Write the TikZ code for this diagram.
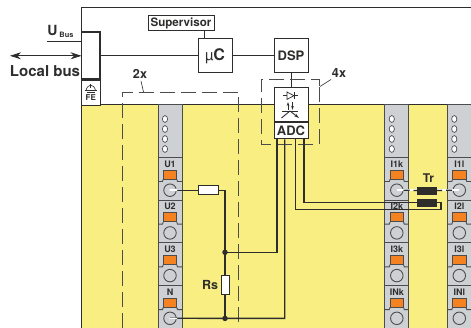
\documentclass[tikz,border=0pt]{standalone}
\usepackage{fontspec}
\setmainfont{TeX Gyre Heros}
\usepackage{tikz}
\usetikzlibrary{positioning}
\usetikzlibrary{arrows.meta}
\definecolor{ink}{HTML}{2E2D2C}
\definecolor{modyellow}{HTML}{F8EE82}
\definecolor{modgray}{HTML}{CED1D4}
\definecolor{modorange}{HTML}{F58220}
\newcommand{\fs}[1]{\bfseries\fontsize{#1}{#1}\selectfont}

\begin{document}
\begin{tikzpicture}[
  x=1pt,y=-1pt,
  node distance=14pt and 41pt,
  color=ink,
  mybox/.style={draw=ink,fill=white,line width=1pt,inner sep=0pt,minimum width=34pt,minimum height=34pt,text=ink},
  mylab/.style={inner sep=0pt,text=ink},
  myres/.style={draw=ink,fill=white,line width=1pt,inner sep=0pt},
  mycoil/.style={draw=ink,fill=ink,inner sep=0pt,minimum width=19pt,minimum height=7.5pt},
  myterm/.style={draw=ink!85,circle,line width=0.9pt,inner sep=0pt,minimum size=12.5pt},
  mydot/.style={circle,fill=ink,inner sep=0pt,minimum size=5.5pt},
  mywire/.style={draw=ink,line width=1.3pt},
  mydash/.style={draw=ink!85,line width=0.8pt,dash pattern=on 15pt off 6pt}
]
\useasboundingbox (0,0) rectangle (471,328);

\fill[white] (0,0) rectangle (471,328);
\fill[modyellow] (81.5,104) rectangle (471,328);
\draw[line width=0.9pt] (471,7.5) -- (81.5,7.5) -- (81.5,328);
\draw[line width=0.9pt] (81.5,104) -- (471,104);

% terminal strips
\foreach \cx/\s/\la/\lb/\lc/\ld in {170/u/U1/U2/U3/N,396.8/k/I1k/I2k/I3k/INk,459.3/l/I1l/I2l/I3l/INl}{
  \draw[ink!85,fill=modgray,line width=0.9pt] ({\cx-12},328) -- ({\cx-12},104) -- ({\cx+12},104) -- ({\cx+12},328);
  \foreach \hy in {119,129,139,149}
    \draw[ink!85,fill=white,line width=0.7pt] ({\cx-5},\hy) ellipse (2.6pt and 3.4pt);
  \foreach \i/\txt in {0/\la,1/\lb,2/\lc,3/\ld}{
    \pgfmathsetmacro{\yy}{157.5+42.7*\i}
    \draw[ink!85,line width=0.9pt] ({\cx-12},\yy) -- ({\cx+12},\yy);
    \node[mylab,font=\fs{9}] at (\cx,{\yy+6.3}) {\txt};
    \draw[ink!85,fill=modorange,line width=0.9pt] ({\cx-6.7},{\yy+12.7}) rectangle ({\cx+6.7},{\yy+21.7});
    \draw[ink!85,line width=0.9pt] ({\cx-12},{\yy+24}) -- ({\cx-7.5},{\yy+24}) -- ({\cx-6.7},{\yy+21.7})
      ({\cx+12},{\yy+24}) -- ({\cx+7.5},{\yy+24}) -- ({\cx+6.7},{\yy+21.7});
    \node[myterm] (\s\i) at (\cx,{\yy+32.7}) {};
  }
}

% module blocks
\node[mybox,draw=ink,line width=1.6pt,minimum width=18.5pt,minimum height=47pt] (bus) at (90.75,55.5) {};
\node[myres,minimum width=18.5pt,minimum height=25pt,anchor=north] (fe) at (bus.south) {};
\node[mylab,font=\fs{8}] (felab) at (90.75,98) {FE};
\node[mybox] (uc) at (215,55.8) {{\fontsize{15}{15}\selectfont µ}{\fs{16}C}};
\node[mybox,right=of uc,font=\fs{13}] (dsp) {DSP};
\node[myres,minimum width=66pt,minimum height=15pt,font=\fs{11.6}] (sup) at (181,23.5) {Supervisor};
\node[mybox,below=of dsp] (det) {};
\node[mybox,minimum height=16pt,anchor=north,font=\fs{13}] (adc) at (det.south) {ADC};
\node[mycoil] (tra) at (426.5,190.5) {};
\node[mycoil] (trb) at (426.5,202.5) {};

% texts
\node[mylab,font=\fs{15}] (lbus) at (45,71) {Local bus};
\node[mylab,font=\fs{14}] (ulab) at (52.5,30.5) {U};
\node[mylab,font=\fs{7.4},right=1.5pt of ulab,yshift=-4pt] (bulab) {Bus};
\node[mylab,font=\fs{12.6}] (twox) at (140,73.5) {2x};
\node[mylab,font=\fs{12.6}] (fourx) at (339,73.5) {4x};
\node[mylab,font=\fs{12.5}] (rslab) at (210,285) {Rs};
\node[mylab,font=\fs{12}] (trlab) at (428.5,178) {Tr};

% free ends of the lines
\coordinate (ubusa) at (47,42);
\coordinate (ubusb) at (81.5,42);
\coordinate (lbusa) at (10,55.8);
\coordinate (lbusb) at (81.5,55.8);
\coordinate (jtop) at (225,252.3);
\coordinate (jbot) at (225,318.4);

\draw[line width=1pt] (ubusa) -- (ubusb);
\draw[line width=0.9pt,{Stealth[length=11pt,width=7pt]}-{Stealth[length=11pt,width=7pt]}] (lbusa) -- (lbusb);
\draw[line width=1.2pt] (bus.east |- uc.west) -- (uc.west);
\draw[line width=1.2pt] (uc.east) -- (dsp.west);
\draw[line width=1pt] (sup.south -| uc.north) ++(-10.5,0) -- ++(0,7.7);
\draw[line width=1pt] (dsp.south) -- (det.north);

% dashed groups
\draw[mydash] (122.5,328) -- (122.5,92) -- (238,92) -- (238,328);
\draw[mydash] (319.3,86) -- (319.3,79) -- (261,79) -- (261,144.3) -- (319.3,144.3) -- (319.3,86);
\draw[line width=0.6pt] (143.5,92) -- (141,81);
\draw[line width=0.6pt] (320,86.5) -- (331,79.5);

% wires
\node[myres,minimum width=20pt,minimum height=9pt] (rtop) at (208,190.2) {};
\node[myres,minimum width=8pt,minimum height=18.6pt] (rs) at (225,285) {};
\draw[mywire] (u0.center) -- (rtop.west);
\draw[mywire] (rtop.east) -| (rs.north);
\draw[mywire] (rs.south) -- (jbot);
\draw[mywire] (u3.center) -- (jbot) -| ([xshift=-6.3pt]adc.south);
\draw[mywire] (jtop) -| ([xshift=-14pt]adc.south);
\draw[mywire] ([xshift=4.7pt]adc.south) |- (441,209.3) -- (441,202.3) -| ([xshift=13pt]adc.south);
\node[mydot] (dota) at (jtop) {};
\node[mydot] (dotb) at (jbot) {};
\node[mycoil] at (trb) {};
\draw[white,line width=1.5pt,line cap=round] (u0.center) -- (u0.east);
\draw[white,line width=1.5pt,line cap=round] (u3.center) -- (u3.east);

% coupling through the coil
\draw[white,line width=1.6pt] (k0.center) -- (l0.center);
\draw[ink,line width=1.3pt,dash pattern=on 6pt off 4pt] (k0.east) -- (tra.west);
\draw[ink,line width=1.3pt,dash pattern=on 6pt off 4pt] (tra.east) -- (l0.west);
\node[mycoil] at (tra) {};

% symbols
\draw[line width=0.7pt] (283,95.7) -- (297.7,95.7) (294,92) -- (294,99.4);
\draw[line width=0.7pt,fill=white] (287,92) -- (294,95.7) -- (287,99.4) -- cycle;
\draw[line width=0.7pt,-{Stealth[length=4pt,width=2.5pt]}] (288,110) -- (288,102);
\draw[line width=0.7pt,-{Stealth[length=4pt,width=2.5pt]}] (292.5,102) -- (292.5,110);
\draw[line width=0.9pt] (282,111) -- (298,111);
\draw[line width=0.9pt] (290,111) -- (281.5,118);
\draw[line width=0.9pt,-{Stealth[length=5pt,width=3pt]}] (290,111) -- (299,118);
\draw[line width=0.6pt] (90.75,84) -- (90.75,88) (85,90.5) -- (96.5,90.5) (87,92.5) -- (94.5,92.5);
\draw[line width=0.6pt] (86,90.5) .. controls (86.5,87) and (89,85.5) .. (90.75,85) .. controls (92.5,85.5) and (95,87) .. (95.5,90.5);

\end{tikzpicture}
\end{document}
